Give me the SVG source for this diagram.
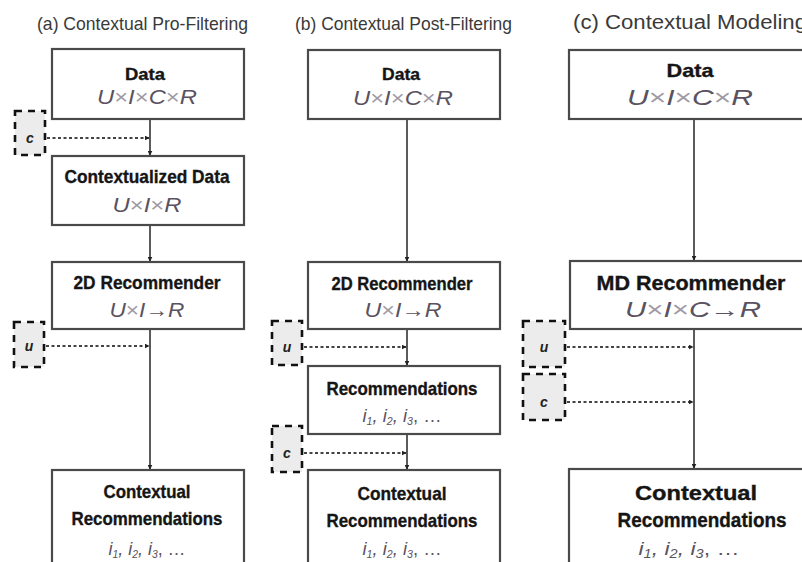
<svg xmlns="http://www.w3.org/2000/svg" width="802" height="562" viewBox="0 0 802 562">
<defs>
<marker id="ah" viewBox="0 0 8 8" refX="7" refY="4" markerWidth="5" markerHeight="5" orient="auto" markerUnits="userSpaceOnUse">
<path d="M0,0 L8,4 L0,8 z" fill="#222"/>
</marker>
<style>
.bg{fill:#fff}
.box{fill:#fff;stroke:#4a4a4a;stroke-width:2.2}
.dbox{fill:#ececec;stroke:#111;stroke-width:2.6;stroke-dasharray:7 6}
.t{font-family:"Liberation Sans",Arial,sans-serif;fill:#3a3a3a}
.b{font-family:"Liberation Sans",Arial,sans-serif;font-weight:bold;fill:#151515;stroke:#151515;stroke-width:0.35;text-anchor:middle}
.m{font-family:"Liberation Sans",Arial,sans-serif;font-style:italic;fill:#5a5260;text-anchor:middle}
.x{fill:#a09aa4;font-style:normal}
.ar{font-style:normal;font-weight:bold}
.v{font-family:"Liberation Sans",Arial,sans-serif;font-style:italic;font-weight:bold;fill:#222;text-anchor:middle;font-size:14px}
.sol{stroke:#333;stroke-width:1.6;fill:none}
.dot{stroke:#444;stroke-width:2;stroke-dasharray:3 2.5;fill:none}
</style>
</defs>
<rect class="bg" x="0" y="0" width="802" height="562"/>

<g id="titles">
<text class="t" x="37" y="30" font-size="18.5" textLength="211" lengthAdjust="spacingAndGlyphs">(a) Contextual Pro-Filtering</text>
<text class="t" x="295" y="30" font-size="18.5" textLength="217" lengthAdjust="spacingAndGlyphs">(b) Contextual Post-Filtering</text>
<text class="t" x="573" y="29" font-size="19.5" textLength="234" lengthAdjust="spacingAndGlyphs">(c) Contextual Modeling</text>
</g>

<g id="connectors">
<line class="sol" x1="150" y1="119" x2="150" y2="155" marker-end="url(#ah)"/>
<line class="sol" x1="150" y1="226" x2="150" y2="261" marker-end="url(#ah)"/>
<line class="sol" x1="150" y1="330" x2="150" y2="469" marker-end="url(#ah)"/>
<line class="dot" x1="47" y1="138" x2="149" y2="138" marker-end="url(#ah)"/>
<line class="dot" x1="46" y1="346" x2="149" y2="346" marker-end="url(#ah)"/>

<line class="sol" x1="407" y1="119" x2="407" y2="261" marker-end="url(#ah)"/>
<line class="sol" x1="407" y1="330" x2="407" y2="365" marker-end="url(#ah)"/>
<line class="sol" x1="407" y1="435" x2="407" y2="469" marker-end="url(#ah)"/>
<line class="dot" x1="304" y1="347" x2="406" y2="347" marker-end="url(#ah)"/>
<line class="dot" x1="304" y1="453" x2="406" y2="453" marker-end="url(#ah)"/>

<line class="sol" x1="694" y1="119" x2="694" y2="260" marker-end="url(#ah)"/>
<line class="sol" x1="694" y1="330" x2="694" y2="468" marker-end="url(#ah)"/>
<line class="dot" x1="567" y1="347" x2="693" y2="347" marker-end="url(#ah)"/>
<line class="dot" x1="567" y1="402" x2="693" y2="402" marker-end="url(#ah)"/>
</g>

<g id="a-data">
<rect class="box" x="52" y="49" width="192" height="70"/>
<text class="b" x="145" y="80" font-size="17" textLength="40" lengthAdjust="spacingAndGlyphs">Data</text>
<text class="m" x="147" y="104" font-size="20" textLength="100" lengthAdjust="spacingAndGlyphs">U<tspan class="x">×</tspan>I<tspan class="x">×</tspan>C<tspan class="x">×</tspan>R</text>
</g>
<g id="a-c">
<rect class="dbox" x="15" y="111" width="30" height="44"/>
<text class="v" x="30" y="143">c</text>
</g>
<g id="a-ctxdata">
<rect class="box" x="52" y="156" width="192" height="69"/>
<text class="b" x="147" y="183" font-size="18.5" textLength="165" lengthAdjust="spacingAndGlyphs">Contextualized Data</text>
<text class="m" x="147" y="212" font-size="20" textLength="69" lengthAdjust="spacingAndGlyphs">U<tspan class="x">×</tspan>I<tspan class="x">×</tspan>R</text>
</g>
<g id="a-2d">
<rect class="box" x="52" y="262" width="192" height="67"/>
<text class="b" x="147" y="289" font-size="18.5" textLength="147" lengthAdjust="spacingAndGlyphs">2D Recommender</text>
<text class="m" x="147" y="317" font-size="20" textLength="75" lengthAdjust="spacingAndGlyphs">U<tspan class="x">×</tspan>I<tspan class="ar">→</tspan>R</text>
</g>
<g id="a-u">
<rect class="dbox" x="14" y="322" width="30" height="45"/>
<text class="v" x="29" y="351">u</text>
</g>
<g id="a-result">
<rect class="box" x="52" y="470" width="192" height="100"/>
<text class="b" x="147" y="498" font-size="18.5" textLength="87" lengthAdjust="spacingAndGlyphs">Contextual</text>
<text class="b" x="147" y="525" font-size="18.5" textLength="151" lengthAdjust="spacingAndGlyphs">Recommendations</text>
<text class="m" x="147" y="555" font-size="19" textLength="77" lengthAdjust="spacingAndGlyphs">i<tspan font-size="11" dy="3">1</tspan><tspan dy="-3">, i</tspan><tspan font-size="11" dy="3">2</tspan><tspan dy="-3">, i</tspan><tspan font-size="11" dy="3">3</tspan><tspan dy="-3" font-style="normal">, …</tspan></text>
</g>

<g id="b-data">
<rect class="box" x="308" y="50" width="192" height="69"/>
<text class="b" x="401" y="80" font-size="17" textLength="38" lengthAdjust="spacingAndGlyphs">Data</text>
<text class="m" x="403" y="105" font-size="20" textLength="100" lengthAdjust="spacingAndGlyphs">U<tspan class="x">×</tspan>I<tspan class="x">×</tspan>C<tspan class="x">×</tspan>R</text>
</g>
<g id="b-2d">
<rect class="box" x="308" y="262" width="192" height="67"/>
<text class="b" x="402" y="290" font-size="18.5" textLength="141" lengthAdjust="spacingAndGlyphs">2D Recommender</text>
<text class="m" x="403" y="317" font-size="20" textLength="77" lengthAdjust="spacingAndGlyphs">U<tspan class="x">×</tspan>I<tspan class="ar">→</tspan>R</text>
</g>
<g id="b-u">
<rect class="dbox" x="272" y="321" width="30" height="44"/>
<text class="v" x="287" y="352">u</text>
</g>
<g id="b-recs">
<rect class="box" x="308" y="366" width="192" height="68"/>
<text class="b" x="402" y="395" font-size="18.5" textLength="151" lengthAdjust="spacingAndGlyphs">Recommendations</text>
<text class="m" x="402" y="422" font-size="19" textLength="79" lengthAdjust="spacingAndGlyphs">i<tspan font-size="11" dy="3">1</tspan><tspan dy="-3">, i</tspan><tspan font-size="11" dy="3">2</tspan><tspan dy="-3">, i</tspan><tspan font-size="11" dy="3">3</tspan><tspan dy="-3" font-style="normal">, …</tspan></text>
</g>
<g id="b-c">
<rect class="dbox" x="272" y="426" width="30" height="46"/>
<text class="v" x="287" y="458">c</text>
</g>
<g id="b-result">
<rect class="box" x="308" y="470" width="192" height="100"/>
<text class="b" x="402" y="500" font-size="18.5" textLength="89" lengthAdjust="spacingAndGlyphs">Contextual</text>
<text class="b" x="402" y="527" font-size="18.5" textLength="151" lengthAdjust="spacingAndGlyphs">Recommendations</text>
<text class="m" x="402" y="555" font-size="19" textLength="79" lengthAdjust="spacingAndGlyphs">i<tspan font-size="11" dy="3">1</tspan><tspan dy="-3">, i</tspan><tspan font-size="11" dy="3">2</tspan><tspan dy="-3">, i</tspan><tspan font-size="11" dy="3">3</tspan><tspan dy="-3" font-style="normal">, …</tspan></text>
</g>

<g id="c-data">
<rect class="box" x="569" y="50" width="245" height="69"/>
<text class="b" x="690" y="77" font-size="19" textLength="47" lengthAdjust="spacingAndGlyphs">Data</text>
<text class="m" x="690" y="105" font-size="22" textLength="126" lengthAdjust="spacingAndGlyphs">U<tspan class="x">×</tspan>I<tspan class="x">×</tspan>C<tspan class="x">×</tspan>R</text>
</g>
<g id="c-md">
<rect class="box" x="570" y="261" width="245" height="68"/>
<text class="b" x="691" y="290" font-size="20" textLength="189" lengthAdjust="spacingAndGlyphs">MD Recommender</text>
<text class="m" x="693" y="317" font-size="22" textLength="136" lengthAdjust="spacingAndGlyphs">U<tspan class="x">×</tspan>I<tspan class="x">×</tspan>C<tspan class="ar">→</tspan>R</text>
</g>
<g id="c-u">
<rect class="dbox" x="523" y="321" width="42" height="46"/>
<text class="v" x="544" y="352">u</text>
</g>
<g id="c-c">
<rect class="dbox" x="523" y="374" width="42" height="46"/>
<text class="v" x="544" y="407">c</text>
</g>
<g id="c-result">
<rect class="box" x="569" y="469" width="245" height="100"/>
<text class="b" x="696" y="500" font-size="19.5" textLength="122" lengthAdjust="spacingAndGlyphs">Contextual</text>
<text class="b" x="702" y="527" font-size="19.5" textLength="169" lengthAdjust="spacingAndGlyphs">Recommendations</text>
<text class="m" x="689" y="555" font-size="19" textLength="101" lengthAdjust="spacingAndGlyphs">i<tspan font-size="12" dy="3">1</tspan><tspan dy="-3">, i</tspan><tspan font-size="12" dy="3">2</tspan><tspan dy="-3">, i</tspan><tspan font-size="12" dy="3">3</tspan><tspan dy="-3" font-style="normal">, …</tspan></text>
</g>
</svg>
